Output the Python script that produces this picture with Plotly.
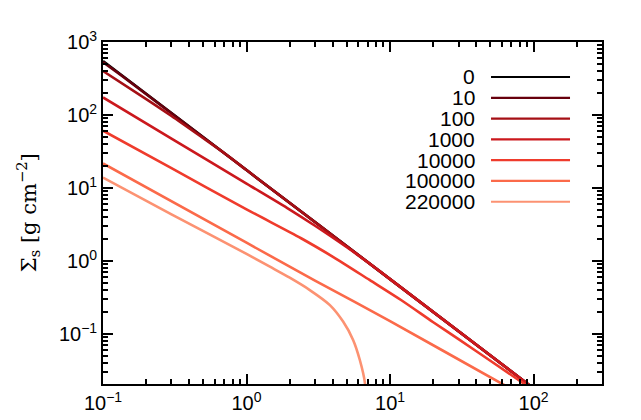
"""
Profil Sigma_s(r) pentru mai multe momente, axe log-log in stil IDL.
"""
import plotly.graph_objects as go

# Valori (r in unitati ale axei x, Sigma in g cm^-2)
R_0 = [0.1, 1, 10, 100]
S_0 = [550, 17.6, 0.565, 0.018]

R_10 = [0.1, 0.15, 1, 10, 100]
S_10 = [530, 296, 17.6, 0.565, 0.018]

R_100 = [0.1, 0.2, 0.3, 0.5, 0.7, 1, 10, 100]
S_100 = [400, 165, 97, 48, 30, 17.6, 0.565, 0.018]

R_1000 = [0.1, 0.3, 1, 2, 3, 5, 8, 10, 100]
S_1000 = [174, 47.5, 11.5, 5.07, 3.04, 1.54, 0.79, 0.565, 0.018]

R_10000 = [0.1, 0.3, 1, 2.4, 4, 7.2, 12, 20, 30, 50, 100]
S_10000 = [61, 18.7, 5.1, 2.05, 1.14, 0.55, 0.29, 0.145, 0.085, 0.043, 0.017]

R_100000 = [0.1, 1, 3, 10, 60.5, 80]
S_100000 = [21.7, 1.78, 0.54, 0.15, 0.0207, 0.0153]

R_220000 = [0.1, 0.3, 1, 1.455, 2.0, 2.76, 3.81, 4.71, 5.53, 6.16, 6.68, 6.75]
S_220000 = [13.9, 4.35, 1.25, 0.835, 0.59, 0.40, 0.249, 0.148, 0.083, 0.044, 0.0214, 0.005]

LABELS = ['0', '10', '100', '1000', '10000', '100000', '220000']
COLORS = ['#000000', '#67000d', '#a50f15', '#cb181d', '#ef3b2c', '#fb6a4a', '#fc9272']

X_TICKS = [0.1, 1, 10, 100]
X_TICKTEXT = ['10<sup>\u22121</sup>', '10<sup>0</sup>', '10<sup>1</sup>', '10<sup>2</sup>']
Y_TICKS = [0.1, 1, 10, 100, 1000]
Y_TICKTEXT = ['10<sup>\u22121</sup>', '10<sup>0</sup>', '10<sup>1</sup>',
              '10<sup>2</sup>', '10<sup>3</sup>']

series = [(R_0, S_0), (R_10, S_10), (R_100, S_100), (R_1000, S_1000),
          (R_10000, S_10000), (R_100000, S_100000), (R_220000, S_220000)]

X_RANGE = [-1, 2.477]
Y_RANGE = [-1.685, 3]

# tick-uri minore 2..9 pe fiecare decada
minor_x = [m * 10 ** e for e in range(-1, 3) for m in range(2, 10)]
minor_y = [m * 10 ** e for e in range(-2, 3) for m in range(2, 10)]

TICK_FONT = dict(family='Liberation Sans', size=20, color='black')

fig = go.Figure()

for (r, s), lab, col in zip(series, LABELS, COLORS):
    fig.add_trace(go.Scatter(
        x=r, y=s, mode='lines', name=lab,
        line=dict(color=col, width=2.6, shape='spline', smoothing=0.8),
        showlegend=False,
    ))

# trace gol, doar ca axele suprapuse (tick-uri minore) sa fie desenate
fig.add_trace(go.Scatter(x=[], y=[], xaxis='x2', yaxis='y2',
                         showlegend=False, hoverinfo='skip'))

# Legenda in stil IDL: text la stanga, linie la dreapta
for i, (lab, col) in enumerate(zip(LABELS, COLORS)):
    yy = 0.8977 - i * 0.0608
    fig.add_annotation(
        x=0.7495, y=yy, xref='paper', yref='paper',
        text=lab, showarrow=False, xanchor='right', yanchor='middle',
        font=dict(family='Liberation Sans', size=21, color='black'),
    )
    fig.add_shape(
        type='line', xref='paper', yref='paper',
        x0=0.7776, x1=0.9359, y0=yy, y1=yy,
        line=dict(color=col, width=2.2),
    )

# Titlul axei y
fig.add_annotation(
    x=-0.150, y=0.5, xref='paper', yref='paper',
    text='\u03a3<sub>s</sub> [g cm<sup>\u22122</sup>]', showarrow=False,
    textangle=-90, xanchor='center', yanchor='middle',
    font=dict(family='DejaVu Serif', size=21, color='black'),
)

# pagina are margine de 8px in body, deci figura e cu 8px mai mica
fig.update_layout(
    width=633, height=412,
    margin=dict(l=95, r=39, t=34, b=36),
    paper_bgcolor='white', plot_bgcolor='white',
    showlegend=False,
)

axis_common = dict(
    type='log', ticks='inside', tickwidth=1.5, tickcolor='black',
    showline=True, linecolor='black', linewidth=1.8, mirror='allticks',
    showgrid=False, zeroline=False, automargin=False,
)

fig.update_layout(
    xaxis=dict(axis_common, range=X_RANGE, tickmode='array',
               tickvals=X_TICKS, ticktext=X_TICKTEXT, ticklen=10,
               tickfont=TICK_FONT),
    yaxis=dict(axis_common, range=Y_RANGE, tickmode='array',
               tickvals=Y_TICKS, ticktext=Y_TICKTEXT, ticklen=10,
               tickfont=TICK_FONT),
    xaxis2=dict(axis_common, range=X_RANGE, overlaying='x', anchor='y',
                tickmode='array', tickvals=minor_x, ticklen=5,
                showticklabels=False),
    yaxis2=dict(axis_common, range=Y_RANGE, overlaying='y', anchor='x',
                tickmode='array', tickvals=minor_y, ticklen=5,
                showticklabels=False),
)

fig.write_html('out.html')
